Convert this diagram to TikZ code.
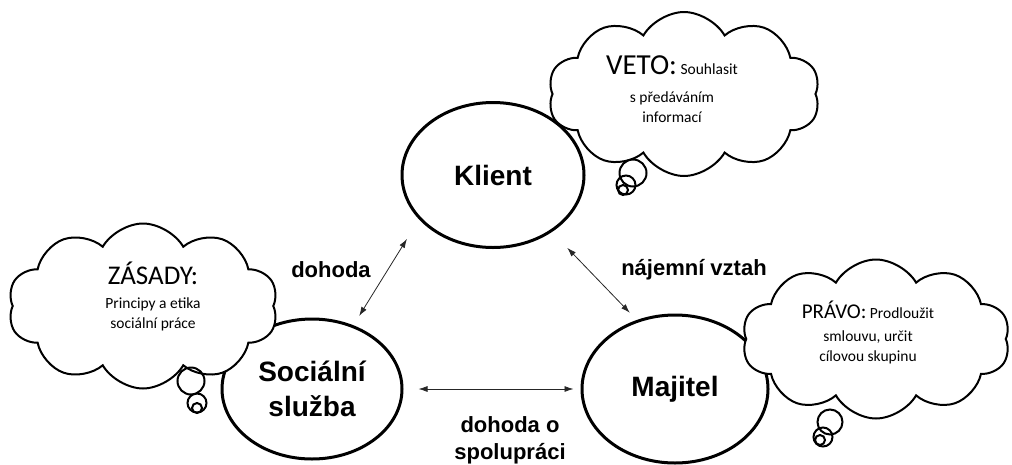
\documentclass[tikz,border=0pt]{standalone}
\usepackage{fontspec}
\setmainfont{Carlito}
\setsansfont{Liberation Sans}
\usetikzlibrary{arrows.meta, shapes.geometric, shapes.symbols}

\begin{document}
\begin{tikzpicture}[x=1pt, y=-1pt,
  party/.style={ellipse,draw,line width=3pt,inner sep=0pt,align=center,
                font=\sffamily\bfseries\fontsize{28}{35}\selectfont},
  rel/.style={font=\sffamily\bfseries\fontsize{22}{27}\selectfont,align=center},
  arr/.style={{Latex[length=9pt,width=6pt]}-{Latex[length=9pt,width=6pt]},
              black!85,line width=0.8pt},
  thought/.style={cloud,cloud puffs=10,cloud puff arc=120,cloud ignores aspect,
                  draw,line width=2pt,fill=white,inner sep=0pt},
  thoughttext/.style={align=center,inner sep=0pt,font=\fontsize{15.5}{20}\selectfont},
  bubble/.style={circle,draw,line width=2pt,inner sep=0pt}
]
\useasboundingbox (0,0) rectangle (1012,464);

% the three parties
\node[party,minimum width=182,minimum height=145] (kl)  at (493,175) {Klient};
\node[party,minimum width=180,minimum height=140] (soc) at (312,389) {Sociální\\služba};
\node[party,minimum width=186,minimum height=148] (maj) at (675,389) {Majitel};

\draw[arr,shorten <=11,shorten >=23] (soc.57) -- (kl.211);
\draw[arr,shorten <=22,shorten >=10] (kl.316) -- (maj.119);
\draw[arr,shorten <=15,shorten >=7]  (soc.east) -- (maj.west);

\node[rel,anchor=base] (l-doh) at (331,277) {dohoda};
\node[rel,anchor=base] (l-naj) at (694,275) {nájemní vztah};
\node[rel] (l-spol) at (510,440) {dohoda o\\spolupráci};

% thought clouds
\node[thought,minimum width=272,minimum height=164] (veto) at (684,94) {};
\node[thoughttext] (veto-t) at (672,89)
  {{\fontsize{29}{20}\selectfont VETO:} Souhlasit\\[8pt]s předáváním\\informací};
\node[bubble,minimum size=27] (veto-b1) at (633,173) {};
\node[bubble,minimum size=19] (veto-b2) at (626,185) {};
\node[bubble,minimum size=10] (veto-b3) at (623,190) {};

\node[thought,minimum width=270,minimum height=165] (zas) at (143,306) {};
\node[thoughttext] (zas-t) at (153,296)
  {{\fontsize{27}{20}\selectfont ZÁSADY:}\\[4pt]Principy a etika\\sociální práce};
\node[bubble,minimum size=27] (zas-b1) at (191,381) {};
\node[bubble,minimum size=19] (zas-b2) at (197,403) {};
\node[bubble,minimum size=10] (zas-b3) at (197,408) {};

\node[thought,minimum width=268,minimum height=159] (prav) at (876,339) {};
\node[thoughttext] (prav-t) at (868,332)
  {{\fontsize{21}{20}\selectfont PRÁVO:} Prodloužit\\[3pt]smlouvu, určit\\cílovou skupinu};
\node[bubble,minimum size=25] (prav-b1) at (830,422) {};
\node[bubble,minimum size=19] (prav-b2) at (823,437) {};
\node[bubble,minimum size=10] (prav-b3) at (820,440) {};
\end{tikzpicture}
\end{document}
